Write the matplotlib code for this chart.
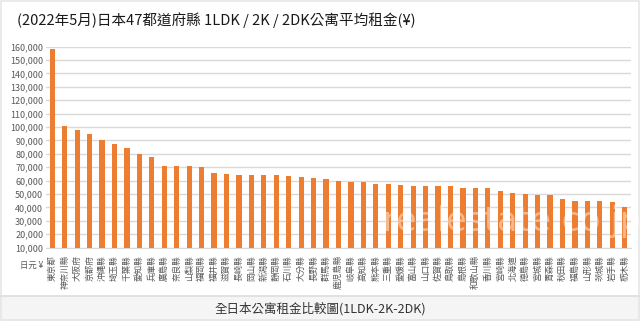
import matplotlib
matplotlib.use("Agg")
import matplotlib.pyplot as plt
from matplotlib.patches import Rectangle
from matplotlib.lines import Line2D
from matplotlib.ticker import FuncFormatter

plt.rcParams['font.family'] = ['Noto Sans CJK TC', 'DejaVu Sans']

prefectures = ["東京都", "神奈川縣", "大阪府", "京都府", "沖縄縣", "埼玉縣", "千葉縣", "愛知縣",
               "兵庫縣", "廣島縣", "奈良縣", "山梨縣", "福岡縣", "福井縣", "滋賀縣", "長崎縣",
               "岡山縣", "新潟縣", "静岡縣", "石川縣", "大分縣", "長野縣", "群馬縣", "鹿児島縣",
               "岐阜縣", "高知縣", "熊本縣", "三重縣", "愛媛縣", "富山縣", "山口縣", "佐賀縣",
               "鳥取縣", "島根縣", "和歌山縣", "香川縣", "宮崎縣", "北海道", "德島縣", "宮城縣",
               "青森縣", "秋田縣", "福島縣", "山形縣", "茨城縣", "岩手縣", "栃木縣"]
rent = [158000, 100800, 97800, 95100, 90000, 87400, 84400, 79700,
        77500, 71000, 71000, 71000, 70200, 65500, 65000, 64500,
        64500, 64300, 64000, 63500, 63000, 61800, 61000, 60000,
        59300, 59300, 57500, 57500, 56800, 56000, 56000, 56000,
        56000, 54600, 54600, 54600, 52100, 50600, 50100, 49100,
        49100, 46100, 45100, 45100, 45100, 43900, 40600]
yticks = list(range(10000, 160001, 10000))

title = "(2022年5月)日本47都道府縣 1LDK / 2K / 2DK公寓平均租金(¥)"
caption = "全日本公寓租金比較圖(1LDK-2K-2DK)"
unit_label = "日元 ¥"

W, H = 640, 321
fig = plt.figure(figsize=(W / 100, H / 100), dpi=100)
fig.patch.set_facecolor("white")

# caption strip background
fig.patches.append(Rectangle((0, 0), 1, (H - 296) / H, transform=fig.transFigure,
                             facecolor="#f5f5f5", edgecolor="none", zorder=0))
fig.lines.append(Line2D([0, 1], [(H - 296) / H] * 2, transform=fig.transFigure,
                        color="#dddddd", lw=1.2))
# outer border
fig.patches.append(Rectangle((0.002, 0.002), 0.996, 0.996, transform=fig.transFigure,
                             facecolor="none", edgecolor="#e6e6e6", lw=1.2, zorder=1))

left, right = 46, 631
top, bottom = 46.7, 247.7
ax = fig.add_axes([left / W, 1 - bottom / H, (right - left) / W, (bottom - top) / H])
ax.set_facecolor("none")

x = list(range(len(prefectures)))
ax.bar(x, rent, width=0.42, color="#ED7D31", zorder=3)
ax.set_xlim(-0.5, len(prefectures) - 0.5)
ax.set_ylim(10000, 160000)
ax.set_yticks(yticks)
ax.yaxis.set_major_formatter(FuncFormatter(lambda v, p: f"{int(v):,}"))
ax.grid(axis="y", color="#d9d9d9", lw=1, zorder=0)
for s in ["top", "right", "left"]:
    ax.spines[s].set_visible(False)
ax.spines["bottom"].set_color("#d9d9d9")
ax.tick_params(axis="y", length=0, labelsize=6.5, labelcolor="#595959", pad=2)
ax.tick_params(axis="x", length=0, labelsize=6.2, labelcolor="#595959", pad=5)
ax.set_xticks(x)
ax.set_xticklabels(prefectures, rotation=90, ha="center", va="top")

fig.text(32 / W, 1 - 265 / H, unit_label, fontsize=6, color="#595959",
         ha="center", va="center")
fig.text(17 / W, 1 - 20 / H, title, fontsize=10.5, color="#1a1a1a",
         ha="left", va="center", fontweight="medium")
fig.text(0.5, 1 - 309 / H, caption, fontsize=9, color="#333333",
         ha="center", va="center")
# watermark
fig.text(512 / W, 1 - 222 / H, "realestate.co.jp", fontsize=24, color="white",
         alpha=0.45, ha="center", va="center", family="DejaVu Sans", zorder=10)

fig.savefig("out.png", dpi=100)
